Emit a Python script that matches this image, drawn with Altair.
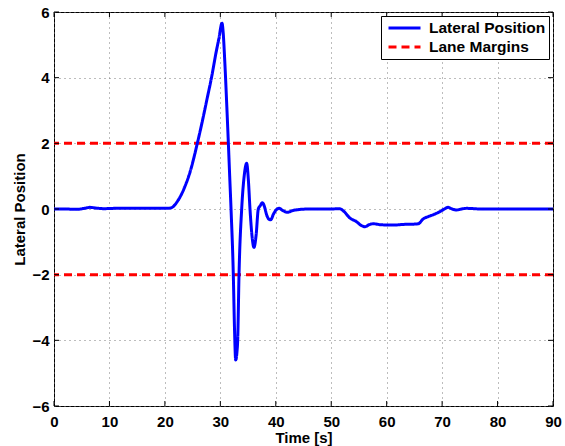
import altair as alt
import pandas as pd

# ---- data ----
time_s = [0, 2, 4, 5.5, 6.5, 7.5, 9, 11, 14, 17, 19.8, 21.0, 22.4, 23.6, 24.65, 25.85,
          26.8, 27.6, 28.44, 29.2, 29.75, 30.3, 30.5, 30.8, 31.15, 31.45, 31.7,
          31.93, 32.34, 32.55, 32.77, 33.0, 33.13, 33.37, 33.85,
          34.3, 34.75, 35.05, 35.35, 35.7, 36.07, 36.45, 36.85, 37.2, 37.58, 38.0,
          38.3, 38.7, 39.08, 39.6, 40.1, 40.6, 41.3, 42.1, 43.0, 44.0, 46, 48, 50,
          51.5, 52.2, 53.4, 54.5, 55.4, 56.1, 56.8, 57.6, 59, 61, 63, 65, 65.7, 66.6,
          67.5, 68.6, 69.6, 70.4, 71.1, 71.8, 72.6, 73.5, 74.4, 77, 80, 84, 87, 90]
lateral_pos = [0.0, 0.0, -0.01, 0.02, 0.05, 0.03, 0.01, 0.02, 0.02, 0.02, 0.02, 0.03,
               0.27, 0.68, 1.19, 2.0, 2.71, 3.35, 4.03, 4.74, 5.2, 5.66, 5.4, 4.5,
               3.2, 2.0, 0.95, 0.0, -2.0, -3.6, -4.6, -4.35, -4.0, -2.0,
               0.0, 1.0, 1.39, 0.9, 0.0, -0.8, -1.17, -0.8, 0.0, 0.1, 0.19, 0.05,
               -0.15, -0.3, -0.33, -0.15, -0.02, 0.02, -0.05, -0.1, -0.05, -0.02, 0.0,
               0.0, 0.0, 0.01, -0.06, -0.28, -0.38, -0.5, -0.54, -0.48, -0.45, -0.48,
               -0.49, -0.47, -0.46, -0.45, -0.3, -0.23, -0.16, -0.08, 0.0, 0.05, 0.0,
               -0.03, 0.0, 0.02, 0.0, 0.0, 0.0, 0.0, 0.0]
lane_margins = [2, -2]
series_names = ["Lateral Position", "Lane Margins"]
x_ticks = [0, 10, 20, 30, 40, 50, 60, 70, 80, 90]
y_ticks = [-6, -4, -2, 0, 2, 4, 6]

FONT = "Liberation Sans"
W, H = 499, 394

pos_df = pd.DataFrame({"t": time_s, "y": lateral_pos, "series": series_names[0]})
margin_df = pd.DataFrame({"y": lane_margins, "series": series_names[1]})
xt_df = pd.DataFrame({"t": x_ticks})
yt_df = pd.DataFrame({"y": y_ticks})

x_scale = alt.Scale(domain=[0, 90], nice=False, zero=False)
y_scale = alt.Scale(domain=[-6, 6], nice=False, zero=False)

color = alt.Color(
    "series:N",
    scale=alt.Scale(domain=series_names, range=["#0000ff", "#ff0000"]),
    legend=alt.Legend(title=None),
)
dash = alt.StrokeDash(
    "series:N",
    scale=alt.Scale(domain=series_names, range=[[1, 0], [8, 5]]),
    legend=alt.Legend(title=None),
)

x_axis = alt.Axis(
    values=x_ticks, title="Time [s]", labelFlush=False, labelOverlap=False,
    ticks=False, tickSize=0, labelPadding=8, domain=False,
    titleY=36, titleBaseline="alphabetic",
)
y_axis = alt.Axis(
    values=y_ticks, title="Lateral Position", labelFlush=False, labelOverlap=False,
    ticks=False, tickSize=0, labelPadding=5, domain=False,
    titleX=-30, titleBaseline="alphabetic", titleAngle=270,
)

line = alt.Chart(pos_df).mark_line(strokeWidth=3, interpolate="monotone").encode(
    x=alt.X("t:Q", scale=x_scale, axis=x_axis),
    y=alt.Y("y:Q", scale=y_scale, axis=y_axis),
    color=color,
    strokeDash=dash,
)

margins = alt.Chart(margin_df).mark_rule(strokeWidth=3).encode(
    y=alt.Y("y:Q", scale=y_scale),
    color=color,
    strokeDash=dash,
)

tick_top = alt.Chart(xt_df).mark_rule(color="black", strokeWidth=1).encode(
    x=alt.X("t:Q", scale=x_scale), y=alt.value(0), y2=alt.value(5))
tick_bot = alt.Chart(xt_df).mark_rule(color="black", strokeWidth=1).encode(
    x=alt.X("t:Q", scale=x_scale), y=alt.value(H), y2=alt.value(H - 5))
tick_left = alt.Chart(yt_df).mark_rule(color="black", strokeWidth=1).encode(
    y=alt.Y("y:Q", scale=y_scale), x=alt.value(0), x2=alt.value(5))
tick_right = alt.Chart(yt_df).mark_rule(color="black", strokeWidth=1).encode(
    y=alt.Y("y:Q", scale=y_scale), x=alt.value(W), x2=alt.value(W - 5))

chart = (
    alt.layer(margins, line, tick_top, tick_bot, tick_left, tick_right)
    .resolve_scale(color="shared", strokeDash="shared")
    .properties(
        width=W, height=H,
        autosize=alt.AutoSizeParams(type="none"),
        padding={"left": 54, "top": 12, "right": 12, "bottom": 40},
        background="white",
    )
    .configure_view(stroke="black", strokeWidth=1)
    .configure_axis(
        labelFont=FONT, labelFontSize=15, labelFontWeight="bold", labelColor="black",
        titleFont=FONT, titleFontSize=15, titleFontWeight="bold", titleColor="black",
        grid=True, gridColor="#7a7a7a", gridDash=[1, 4], gridWidth=1, gridOpacity=1,
    )
    .configure_legend(
        orient="top-right", offset=4, padding=3,
        fillColor="white", strokeColor="black",
        labelFont=FONT, labelFontSize=15.5, labelFontWeight="bold", labelColor="black",
        symbolType="stroke", symbolSize=1024, symbolStrokeWidth=3,
        clipHeight=18, rowPadding=1, symbolOffset=3, labelOffset=7,
    )
)

chart.save("out.html", embed_options={"renderer": "svg", "actions": False})
